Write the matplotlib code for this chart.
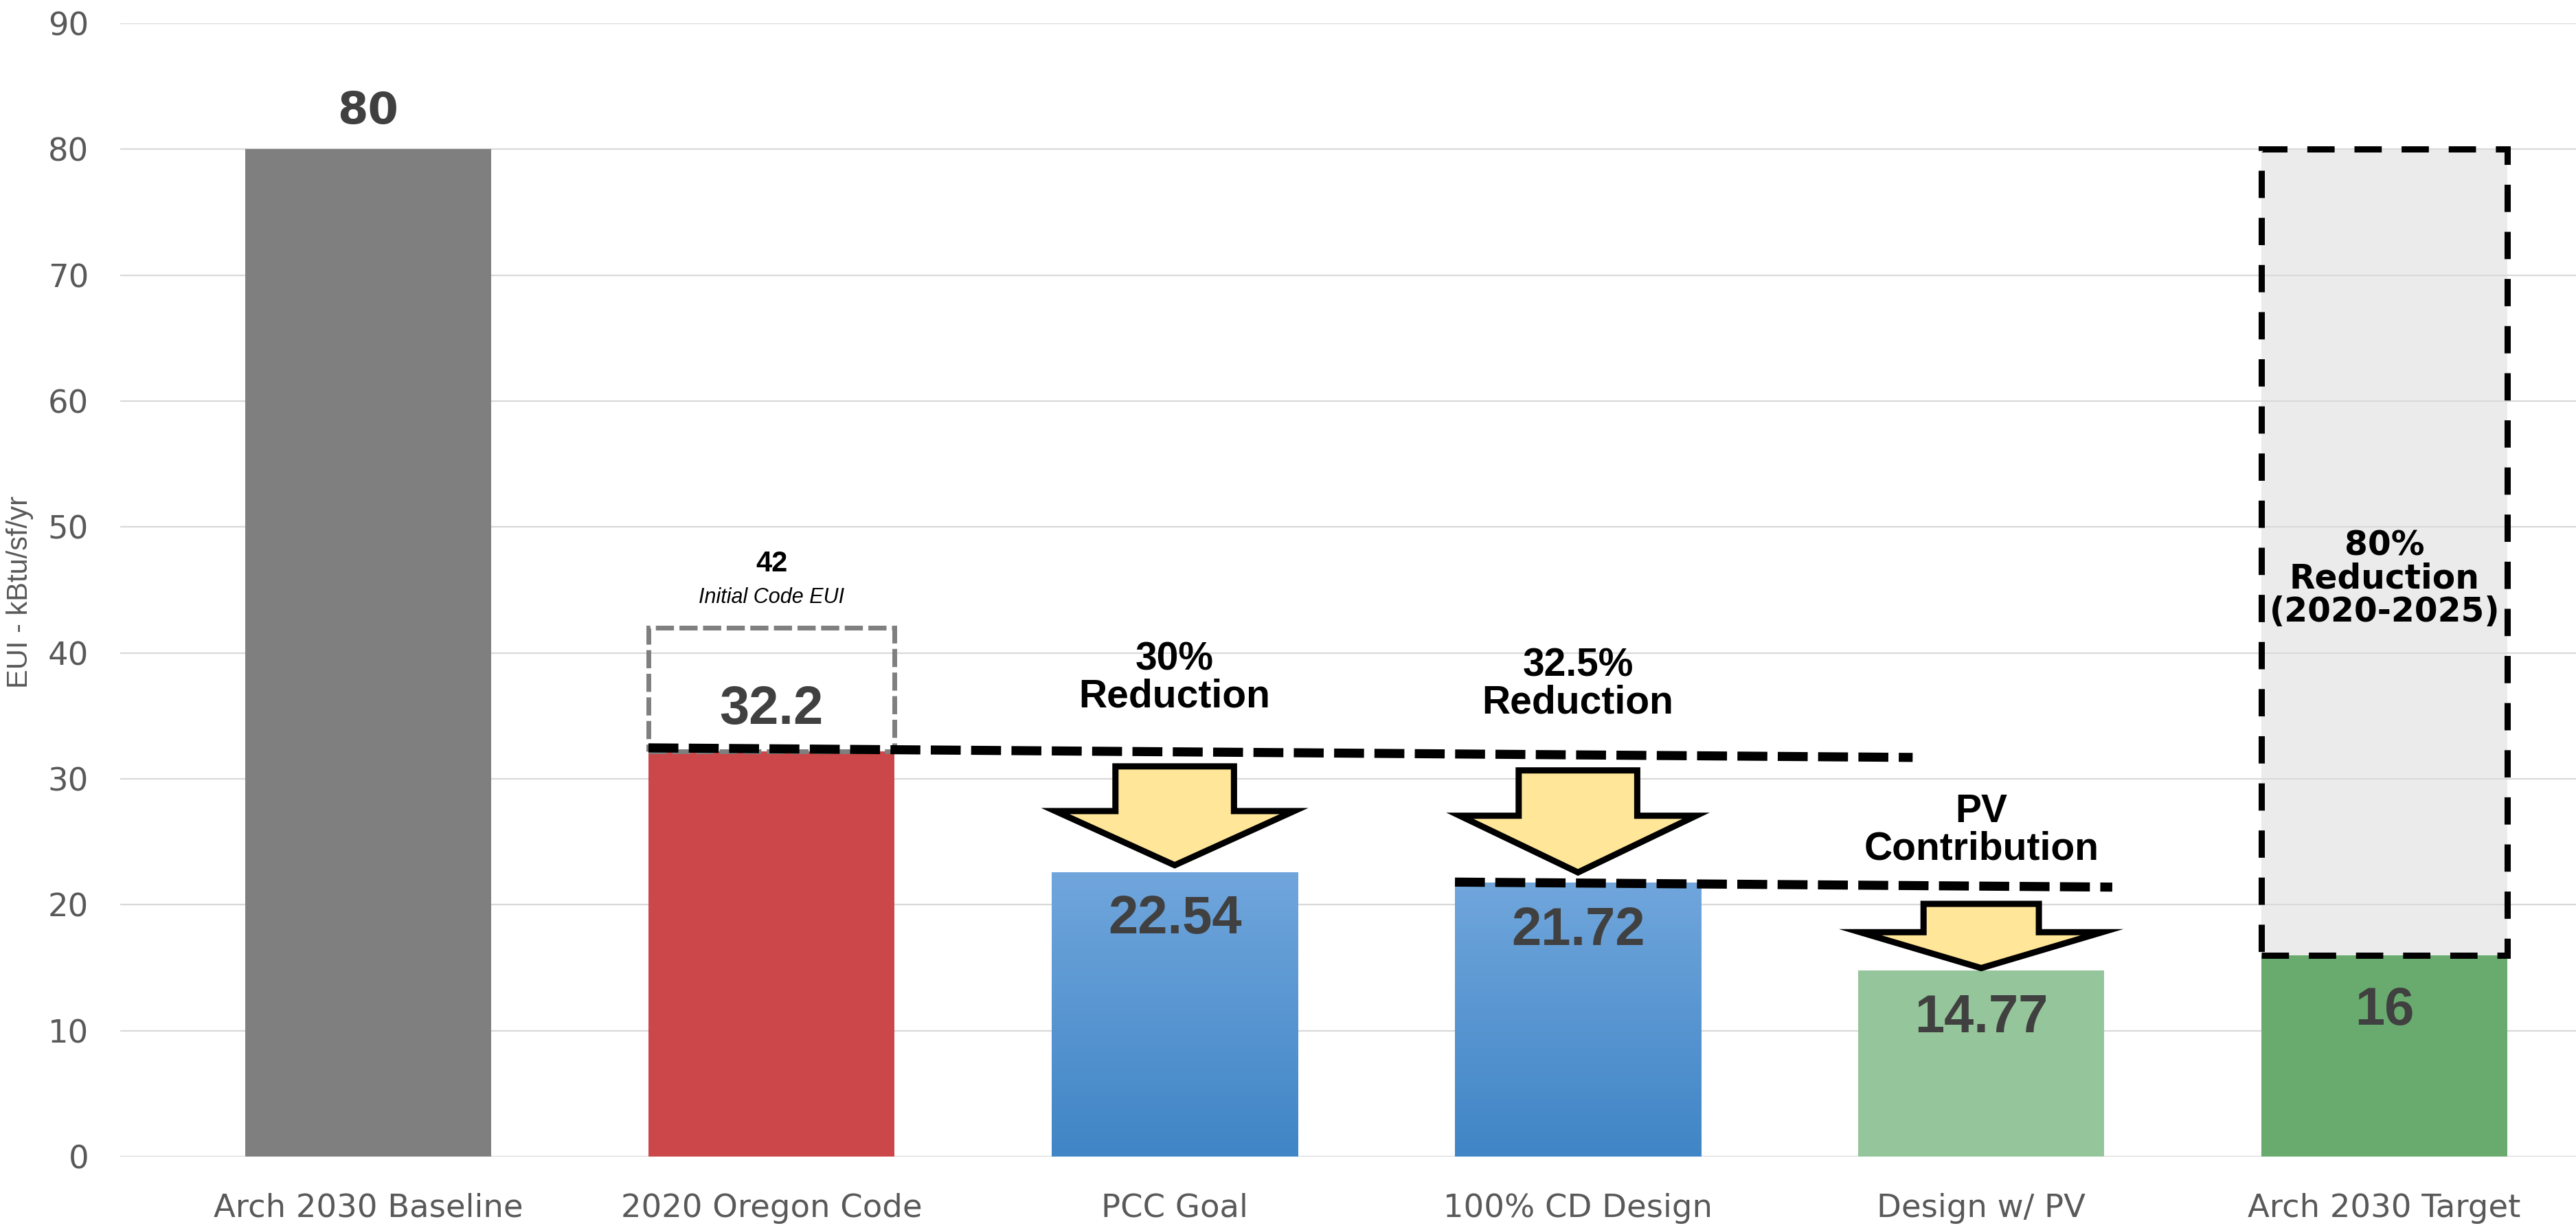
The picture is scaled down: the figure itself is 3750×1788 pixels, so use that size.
import matplotlib.pyplot as plt
import numpy as np
from matplotlib.patches import Rectangle, Polygon
from matplotlib.colors import LinearSegmentedColormap
from matplotlib import font_manager as fm

# EUI values per design stage (kBtu/sf/yr)
categories = ["Arch 2030 Baseline", "2020 Oregon Code", "PCC Goal",
              "100% CD Design", "Design w/ PV", "Arch 2030 Target"]
eui = [80, 32.2, 22.54, 21.72, 14.77, 16]
value_labels = ["80", "32.2", "22.54", "21.72", "14.77", "16"]
initial_code_eui = 42
baseline_eui = 80
step_notes = ["30%\nReduction", "32.5%\nReduction", "PV\nContribution"]
yticks = [0, 10, 20, 30, 40, 50, 60, 70, 80, 90]

names = {f.name for f in fm.fontManager.ttflist}
narrow = "Liberation Sans Narrow" if "Liberation Sans Narrow" in names else "Liberation Sans"

fig = plt.figure(figsize=(37.5, 17.88), dpi=100)
ax = fig.add_axes([175 / 3750, 1 - 1684 / 1788, 1 - 175 / 3750, 1650 / 1788])

x = np.arange(len(categories))
w = 0.61
colors = ["#7f7f7f", "#cc4749", None, None, "#95c59a", "#69ab6e"]

ax.set_axisbelow(True)
ax.yaxis.grid(True, color="#d9d9d9", lw=1.6, zorder=0.5)
for s in ax.spines.values():
    s.set_visible(False)
ax.set_yticks(yticks)
ax.set_xticks(x)
ax.set_xticklabels(categories)
ax.tick_params(length=0, labelsize=33.5, labelcolor="#595959")
ax.tick_params(axis="y", pad=33)
ax.tick_params(axis="x", pad=38)
fig.text(29 / 3750, 0.518, "EUI - kBtu/sf/yr", family=narrow,
         fontsize=37 if narrow != "Liberation Sans" else 30,
         color="#595959", rotation=90, ha="center", va="center")

# target box (baseline down to target) behind the gridlines
ax.add_patch(Rectangle((x[5] - w / 2, eui[5]), w, baseline_eui - eui[5],
                       facecolor="#ebebeb", edgecolor="none", zorder=0.4))

# bars
blue_grad = np.linspace(0, 1, 256).reshape(-1, 1)
blue_cmap = LinearSegmentedColormap.from_list("blue", ["#4085c6", "#70a6dc"])
for i, v in enumerate(eui):
    if colors[i] is None:
        ax.imshow(blue_grad, cmap=blue_cmap, origin="lower", aspect="auto",
                  extent=(x[i] - w / 2, x[i] + w / 2, 0, v), zorder=2)
    else:
        ax.bar(x[i], v, width=w, color=colors[i], zorder=2)
ax.set_xlim(-0.615, 5.475)
ax.set_ylim(0, 90)

# value labels
ax.text(x[0], eui[0] + 3.0, value_labels[0], ha="center", va="center",
        fontsize=46, fontweight="bold", color="#404040", zorder=6)
ax.text(x[1], eui[1] + 3.3, value_labels[1], ha="center", va="center",
        family="Liberation Sans", fontsize=56, fontweight="bold", color="#404040", zorder=6)
for i, off in zip([2, 3, 4, 5], [3.7, 3.8, 3.8, 4.4]):
    ax.text(x[i], eui[i] - off, value_labels[i], ha="center", va="center",
            family="Liberation Sans", fontsize=56, fontweight="bold", color="#404040", zorder=6)

# initial code EUI box
ax.add_patch(Rectangle((x[1] - w / 2, eui[1]), w, initial_code_eui - eui[1], fill=False,
                       edgecolor="#7f7f7f", lw=5, linestyle=(0, (3.8, 1.15)), zorder=3))
ax.text(x[1], initial_code_eui + 5.1, str(initial_code_eui), ha="center", va="center",
        family="Liberation Sans", fontsize=30, fontweight="bold", color="black")
ax.text(x[1], initial_code_eui + 2.4, "Initial Code EUI", ha="center", va="center",
        family="Liberation Sans", fontsize=22, style="italic", color="black")

# target box outline and note
ax.add_patch(Rectangle((x[5] - w / 2, eui[5]), w, baseline_eui - eui[5], fill=False,
                       edgecolor="black", lw=6.5, linestyle=(0, (4.4, 3.2)), zorder=5))
ax.text(x[5], 45.9, "80%\nReduction\n(2020-2025)", ha="center", va="center",
        fontsize=35, fontweight="bold", color="black", linespacing=1.0, zorder=6)

# dashed reference lines
dash = dict(color="black", lw=9.5, linestyle=(0, (3.3, 1.15)), dash_capstyle="butt",
            solid_capstyle="butt", zorder=5)
ax.plot([x[1] - w / 2, 3.83], [eui[1] + 0.26, eui[1] - 0.5], **dash)
ax.plot([x[3] - w / 2, 4.325], [eui[3] + 0.08, eui[3] - 0.32], **dash)

# yellow block arrows above each reduction step
arrow_gap = [0.6, 0.85, 0.2]
head_len = [4.3, 4.5, 2.85]
shaft_len = [3.55, 3.6, 2.25]
head_hw = [0.296, 0.293, 0.30]
shaft_hw = [0.147, 0.147, 0.143]
note_y = [38.0, 37.5, 25.9]
for k, i in enumerate([2, 3, 4]):
    tip = eui[i] + arrow_gap[k]
    base = tip + head_len[k]
    top = base + shaft_len[k]
    cx = x[i]
    pts = [(cx - shaft_hw[k], top), (cx + shaft_hw[k], top), (cx + shaft_hw[k], base),
           (cx + head_hw[k], base), (cx, tip), (cx - head_hw[k], base),
           (cx - shaft_hw[k], base)]
    ax.add_patch(Polygon(pts, closed=True, facecolor="#ffe699", edgecolor="black",
                         lw=6.5, joinstyle="miter", zorder=4))
    ax.text(cx, note_y[k], step_notes[k], ha="center", va="center", family="Liberation Sans",
            fontsize=41, fontweight="bold", color="black", linespacing=1.0, zorder=6)

fig.savefig("out.png", dpi=100)
